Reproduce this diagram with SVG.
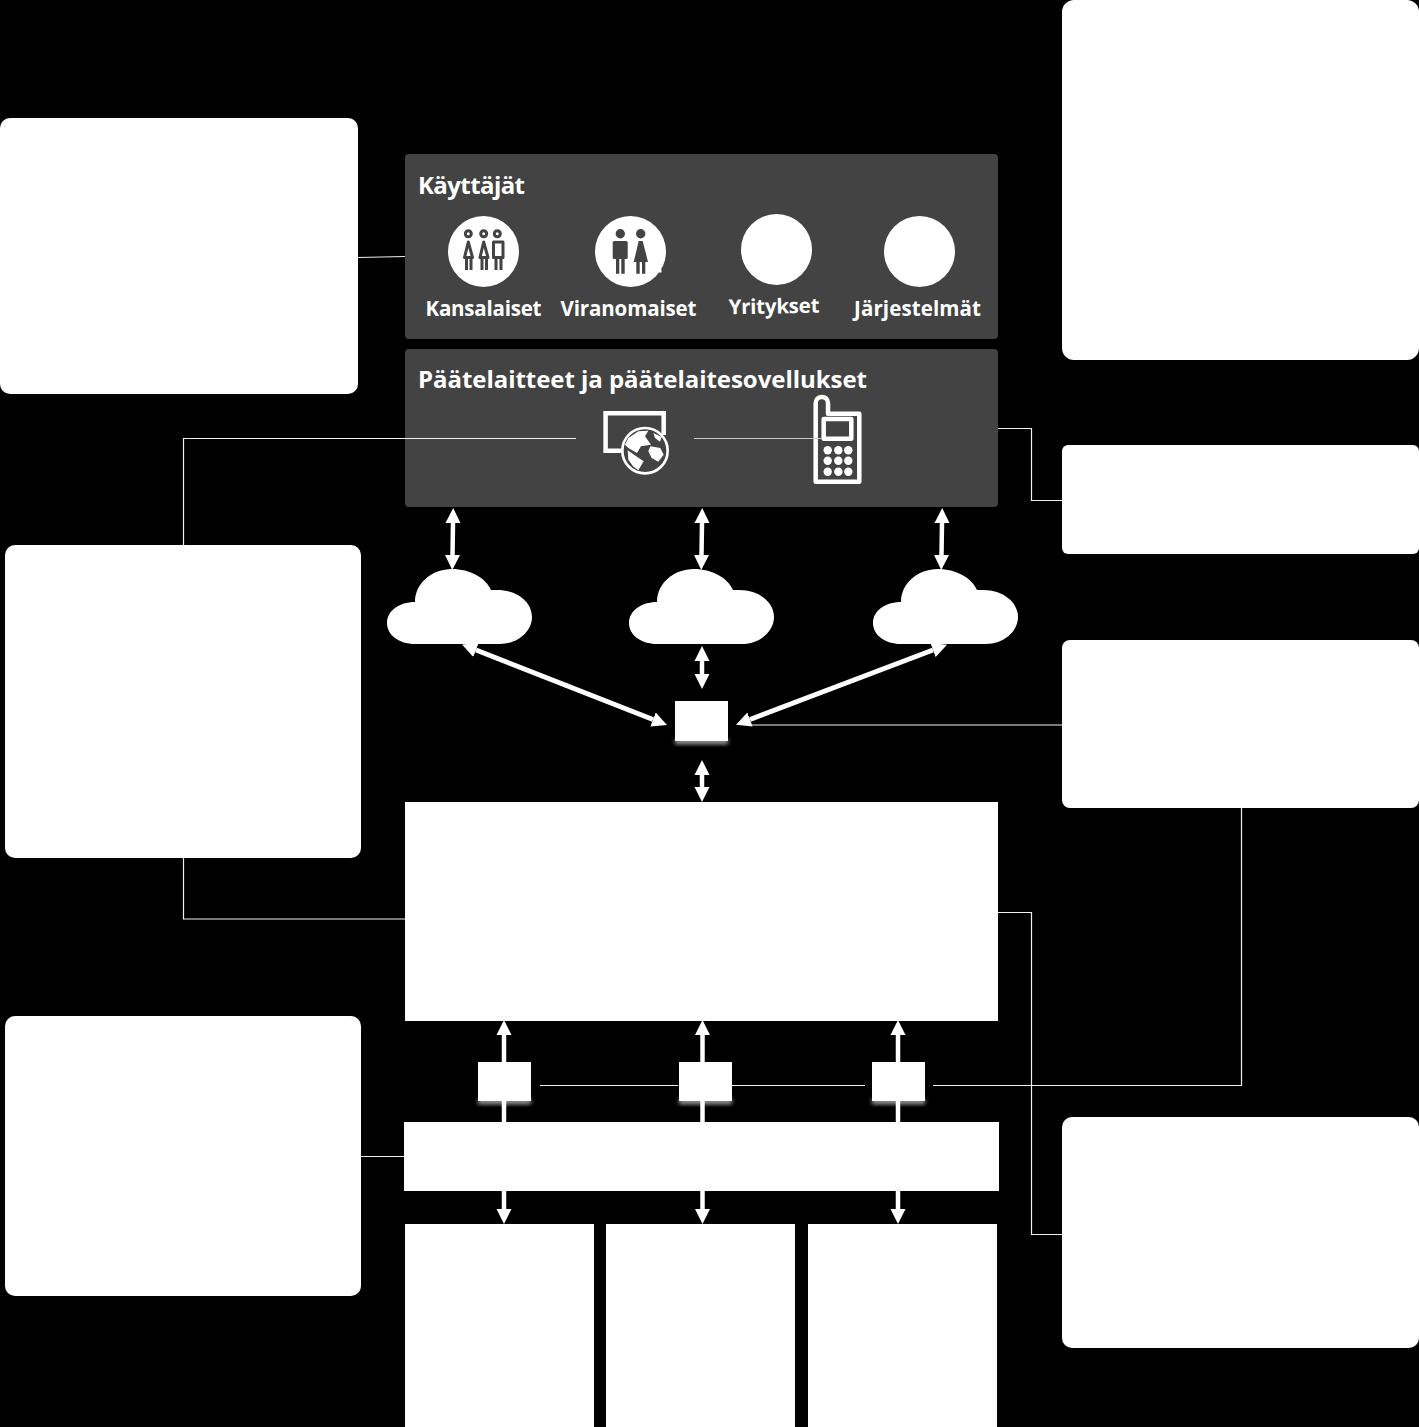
<svg xmlns="http://www.w3.org/2000/svg" width="1419" height="1427" viewBox="0 0 1419 1427">
<style>
.note{fill:#fff}
.panel{fill:#434343}
.wire{fill:none;stroke:#f0f0f0;stroke-width:1.2}
.flow{fill:none;stroke:#fff;stroke-width:4.500;marker-start:url(#ah);marker-end:url(#ah)}
.diag{stroke-width:5}
.flow2{fill:none;stroke:#fff;stroke-width:4.500;marker-end:url(#ah)}
.t{font-family:"Open Sans","Noto Sans","Liberation Sans",sans-serif;font-weight:700;fill:#fff}
.h{font-size:24px}
.l{font-size:20.500px;text-anchor:middle}
.ic{fill:#434343}
.icl{fill:none;stroke:#434343;stroke-width:3;stroke-linejoin:round}
.ph{fill:none;stroke:#fff;stroke-width:4.500}
.w{fill:#fff}
.sh{fill:#aaa;filter:url(#sh)}
</style>
<defs>
<marker id="ah" markerUnits="userSpaceOnUse" markerWidth="16" markerHeight="16" refX="0" refY="8" orient="auto-start-reverse" viewBox="0 0 16 16"><path d="M0,0.500L15,8L0,15.500z" fill="#fff"/></marker>
<path id="cloud" d="M28,75C12,75 0,66 0,54C0,42 12,33 28,33C28,14 45,0 65,0C83,0 99,9 104,21L110,21C130,21 145,33 145,48C145,63 130,75 113,75Z" fill="#fff"/>
<filter id="sh" x="-20%" y="-50%" width="140%" height="200%"><feGaussianBlur stdDeviation="2"/></filter>
</defs>
<rect width="1419" height="1427" fill="#000"/>
<g id="note-top-left"><rect class="note" x="0" y="118" width="358" height="276" rx="10"/></g>
<g id="note-top-right"><rect class="note" x="1062" y="0" width="357" height="360" rx="12"/></g>
<g id="note-terminal"><rect class="note" x="1062" y="445" width="357" height="109" rx="6"/></g>
<g id="note-hub"><rect class="note" x="1062" y="640" width="357" height="168" rx="8"/></g>
<g id="note-mid-left"><rect class="note" x="5" y="545" width="356" height="313" rx="10"/></g>
<g id="note-low-left"><rect class="note" x="5" y="1016" width="356" height="280" rx="10"/></g>
<g id="note-low-right"><rect class="note" x="1062" y="1117" width="357" height="231" rx="10"/></g>
<g id="users">
<rect class="panel" x="405" y="154" width="593" height="185" rx="4"/>
<text class="t h" x="418" y="193.500" textLength="107">Käyttäjät</text>
<circle class="w" cx="483.500" cy="251.500" r="35.500"/>
<g id="citizens-icon">
<circle class="icl" cx="468.300" cy="233.700" r="3"/><circle class="icl" cx="483.700" cy="233.700" r="3"/><circle class="icl" cx="497.300" cy="233.700" r="3"/>
<path class="icl" d="M468.300,242L464.500,257.500H472.500Z"/><path class="ic" d="M465,258H468V270H465ZM469.500,258H472.500V270H469.500Z"/>
<path class="icl" d="M483.700,242L480,257.500H488Z"/><path class="ic" d="M480.500,258H483.500V270H480.500ZM485,258H488V270H485Z"/>
<rect class="icl" x="493.500" y="242" width="9.500" height="15.500"/><path class="ic" d="M494.500,258H497.500V270H494.500ZM499.500,258H502.500V270H499.500Z"/>
</g>
<circle class="w" cx="630.500" cy="251.500" r="35.500"/>
<rect class="w" x="657" y="269.500" width="4.500" height="3"/>
<g id="officials-icon">
<circle class="ic" cx="620.300" cy="233.700" r="4.700"/><circle class="ic" cx="640.700" cy="233.700" r="4.700"/>
<rect class="ic" x="612.700" y="241" width="15" height="18" rx="1.500"/>
<path class="ic" d="M616,259H619.300V273.700H616ZM621.300,259H624.700V273.700H621.300Z"/>
<path class="ic" d="M638.700,241H642.700L648,262H633.700Z"/>
<path class="ic" d="M636.300,262H639.700V273.700H636.300ZM642,262H645.300V273.700H642Z"/>
</g>
<circle class="w" cx="776.500" cy="249.500" r="35.500"/>
<circle class="w" cx="919.500" cy="251.500" r="35.500"/>
<text class="t l" x="483.500" y="315.500" textLength="116">Kansalaiset</text>
<text class="t l" x="628.500" y="315.500" textLength="136">Viranomaiset</text>
<text class="t l" x="774" y="313.500" textLength="91" transform="rotate(-1 774 306)">Yritykset</text>
<text class="t l" x="917.500" y="315.500" textLength="127">Järjestelmät</text>
</g>
<g id="terminals">
<rect class="panel" x="405" y="349" width="593" height="158" rx="4"/>
<text class="t h" x="418" y="388" textLength="449">Päätelaitteet ja päätelaitesovellukset</text>
<g id="browser-icon">
<path class="ph" d="M623,450.700H605.600V413.300H663.700V435"/>
<g transform="translate(595 403) scale(.3333)">
<circle cx="150" cy="143" r="68" fill="#434343" stroke="#fff" stroke-width="8"/>
<path class="w" d="M100,105L130,85L160,83L150,100L168,125L138,130L126,150L100,135L90,125ZM98,142L128,163L146,175L130,202L114,190L100,170ZM166,130L196,135L206,155L190,176L170,165L160,145ZM175,90L200,102L195,116L180,105Z"/>
</g>
</g>
<g id="phone-icon">
<path class="ph" d="M815.700,403C815.700,395 828,395 828,403V413.700H859.300V481.700H815.700Z" stroke-linejoin="round"/>
<rect class="ph" x="823.700" y="419" width="27.600" height="19.700" stroke-linejoin="round"/>
<g class="w"><circle cx="827.700" cy="450.300" r="4.200"/><circle cx="838.300" cy="450.300" r="4.200"/><circle cx="848.300" cy="450.300" r="4.200"/><circle cx="827.700" cy="460.700" r="4.200"/><circle cx="838.300" cy="460.700" r="4.200"/><circle cx="848.300" cy="460.700" r="4.200"/><circle cx="827.700" cy="471.700" r="4.200"/><circle cx="838.300" cy="471.700" r="4.200"/><circle cx="848.300" cy="471.700" r="4.200"/></g>
</g>
</g>
<g id="clouds">
<use href="#cloud" x="387" y="569"/>
<use href="#cloud" x="629" y="569"/>
<use href="#cloud" x="873" y="569"/>
</g>
<g id="hub">
<rect class="sh" x="675" y="739" width="53" height="5"/>
<rect class="note" x="675" y="701" width="53" height="40"/>
</g>
<g id="main"><rect class="note" x="405" y="802" width="593" height="219"/></g>
<g id="gw1"><rect class="sh" x="478" y="1099" width="53" height="5"/><rect class="note" x="478" y="1062" width="53" height="39"/></g>
<g id="gw2"><rect class="sh" x="679" y="1099" width="53" height="5"/><rect class="note" x="679" y="1062" width="53" height="39"/></g>
<g id="gw3"><rect class="sh" x="872" y="1099" width="53" height="5"/><rect class="note" x="872" y="1062" width="53" height="39"/></g>
<g id="bus"><rect class="note" x="404" y="1122" width="595" height="69"/></g>
<g id="store1"><rect class="note" x="405" y="1224" width="189" height="203"/></g>
<g id="store2"><rect class="note" x="606" y="1224" width="189" height="203"/></g>
<g id="store3"><rect class="note" x="808" y="1224" width="189" height="203"/></g>
<g id="connectors">
<path class="wire" d="M358,257.500L405,256.500"/>
<path class="wire" d="M183.500,545V438.500H576"/>
<path class="wire" d="M694,438.500H822" style="stroke:#c8c8c8"/>
<path class="wire" d="M998,428.500H1031.500V500.500H1062"/>
<path class="wire" d="M1062,725H752"/>
<path class="wire" d="M1241.500,808V1085.500H933"/>
<path class="wire" d="M540,1085.500H678M732,1085.500H865"/>
<path class="wire" d="M183.500,858V919H405"/>
<path class="wire" d="M998,912.500H1031.500V1234.500H1062"/>
<path class="wire" d="M361,1156.500H404"/>
<path class="flow" d="M453,523L452.500,555"/>
<path class="flow" d="M702,523L701.500,555"/>
<path class="flow" d="M942,523L941.500,555"/>
<path class="flow" d="M702,661V674"/>
<path class="flow" d="M702,775V787"/>
<path class="flow diag" d="M476,650L653,719.500"/>
<path class="flow diag" d="M933,650L750,719.500"/>
<path class="flow2" d="M504,1122V1035"/>
<path class="flow2" d="M702.500,1122V1035"/>
<path class="flow2" d="M898,1122V1035"/>
<path class="flow2" d="M504,1191V1209"/>
<path class="flow2" d="M702.500,1191V1209"/>
<path class="flow2" d="M898,1191V1209"/>
</g>
</svg>
